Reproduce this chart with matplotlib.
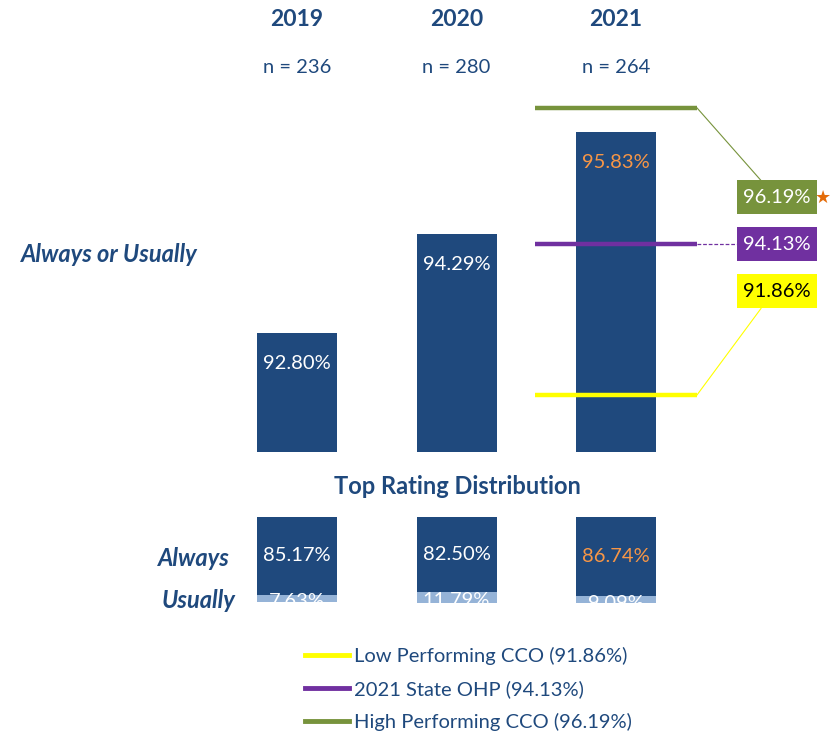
import matplotlib
matplotlib.use('Agg')
import matplotlib.pyplot as plt
from matplotlib.lines import Line2D
import numpy as np

# ---------------- data ----------------
years = ['2019', '2020', '2021']
n_sizes = [236, 280, 264]
always_or_usually = [92.80, 94.29, 95.83]
always = [85.17, 82.50, 86.74]
usually = [7.63, 11.79, 9.09]
ref_names = ['Low Performing CCO', '2021 State OHP', 'High Performing CCO']
ref_values = [91.86, 94.13, 96.19]

# ---------------- style ----------------
plt.rcParams['font.family'] = ['Lato', 'DejaVu Sans']
NAVY = '#1F497D'
TEXT = '#1F497D'
LIGHT = '#95B3D7'
ORANGE = '#F79646'
STAR = '#E46C0A'
ref_colors = ['#FFFF00', '#7030A0', '#77933C']
box_text_colors = ['black', 'white', 'white']
label_colors = ['white', 'white', ORANGE]
FS = 14.5      # body text size
FS_HEAD = 17   # section labels

W, H = 830, 735
fig = plt.figure(figsize=(W / 100, H / 100), dpi=100)

# layout in pixels
x0_px, step_px = 297, 159.5
base_px, ppu, ymin = 452, 66.3, 91.0
bar_w = 80 / step_px


def px2x(px):
    return (px - x0_px) / step_px


def py2y(py):
    return ymin + (base_px - py) / ppu


x = np.arange(len(years))

# ---------------- main axes ----------------
ax = fig.add_axes([0, 0, 1, 1])
ax.set_xlim(px2x(0), px2x(W))
ax.set_ylim(py2y(H), py2y(0))
ax.axis('off')

vals = np.array(always_or_usually)
ax.bar(x, vals - ymin, bottom=ymin, width=bar_w, color=NAVY, zorder=2)
for i, v in enumerate(vals):
    ax.annotate(f'{v:.2f}%', (x[i], v), xytext=(0, -31 * 0.72),
                textcoords='offset points', ha='center', va='center',
                color=label_colors[i], fontsize=FS, zorder=5)

# year headers and n
for i, (yr, n) in enumerate(zip(years, n_sizes)):
    ax.text(x[i], py2y(19), yr, ha='center', va='center', fontsize=16.5,
            fontweight='bold', color=TEXT)
    ax.text(x[i], py2y(67), f'n = {n}', ha='center', va='center',
            fontsize=FS, color=TEXT)

# reference lines across last year
last = x[-1]
half = 81 / step_px
ax.hlines(ref_values, last - half, last + half, colors=ref_colors, lw=3.2, zorder=3)

# label boxes
box_cx = px2x(777)
box_w = 80 / step_px
box_h = 34 / ppu
state_py = base_px - (ref_values[1] - ymin) * ppu
box_offsets_px = [47, 0, -47]
for v, c, tc, off in zip(ref_values, ref_colors, box_text_colors, box_offsets_px):
    cy = py2y(state_py + off)
    ax.add_patch(plt.Rectangle((box_cx - box_w / 2, cy - box_h / 2), box_w, box_h,
                               facecolor=c, edgecolor='none', zorder=4))
    ax.text(box_cx, cy, f'{v:.2f}%', ha='center', va='center', color=tc,
            fontsize=FS, zorder=5)
    line_end = last + half
    if off == 0:
        ax.plot([line_end, box_cx - box_w / 2], [v, v], color=c, lw=0.9,
                ls=(0, (3, 1.5)), zorder=3)
    else:
        edge = cy + box_h / 2 if v > cy else cy - box_h / 2
        ax.plot([line_end, box_cx - 16 / step_px], [v, edge], color=c, lw=0.8, zorder=3)

# star next to high-performing box
ax.text(px2x(823), py2y(state_py - 47), '★', ha='center', va='center',
        color=STAR, fontsize=13, family='DejaVu Sans')

# ---------------- lower axes (top rating distribution) ----------------
ax2 = fig.add_axes([0, 1 - 603 / H, 1, 86 / H])
ax2.set_xlim(px2x(0), px2x(W))
ax2.set_ylim(94, 0)
ax2.axis('off')
ax2.bar(x, always, width=bar_w, color=NAVY)
ax2.bar(x, usually, bottom=always, width=bar_w, color=LIGHT)
for i in range(len(x)):
    ax2.text(x[i], always[i] / 2, f'{always[i]:.2f}%', ha='center', va='center',
             color=label_colors[i], fontsize=FS)
    ax2.text(x[i], always[i] + usually[i] / 2 + 3, f'{usually[i]:.2f}%', ha='center',
             va='center', color='white', fontsize=FS, clip_on=True)

# ---------------- side / section labels ----------------
fig.text(109 / W, 1 - 254 / H, 'Always or Usually', ha='center', va='center',
         fontsize=FS_HEAD, fontweight='bold', style='italic', color=TEXT)
fig.text(457 / W, 1 - 487 / H, 'Top Rating Distribution', ha='center', va='center',
         fontsize=FS_HEAD, fontweight='bold', color=TEXT)
fig.text(230 / W, 1 - 558 / H, 'Always', ha='right', va='center',
         fontsize=FS_HEAD, fontweight='bold', style='italic', color=TEXT)
fig.text(235 / W, 1 - 601 / H, 'Usually', ha='right', va='center',
         fontsize=FS_HEAD, fontweight='bold', style='italic', color=TEXT)

# ---------------- legend ----------------
handles = [Line2D([], [], color=c, lw=3.5) for c in ref_colors]
labels = [f'{nm} ({v:.2f}%)' for nm, v in zip(ref_names, ref_values)]
fig.legend(handles, labels, loc='upper left', bbox_to_anchor=(305 / W, 1 - 647 / H),
           frameon=False, fontsize=FS, labelcolor=TEXT, handlelength=2.2,
           handletextpad=0.25, labelspacing=0.75, borderpad=0, borderaxespad=0)

fig.savefig('out.png', dpi=100)
